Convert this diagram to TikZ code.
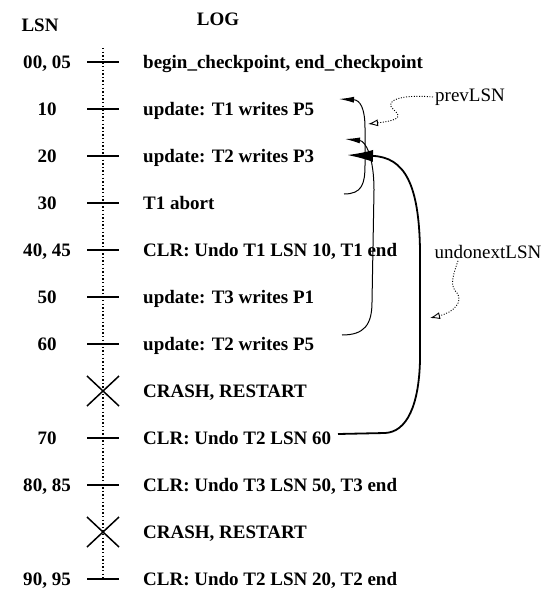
\documentclass[tikz,border=0pt]{standalone}
\usepackage{fontspec}
\setmainfont{Liberation Serif}
\usetikzlibrary{arrows.meta}

\begin{document}
\begin{tikzpicture}[x=1pt, y=-1pt,
  every node/.style={font=\fontsize{19}{22}\selectfont, inner sep=2pt},
  lsn/.style={font=\fontsize{19}{22}\selectfont\bfseries, text height=12.6pt, text depth=0pt},
  entry/.style={lsn, anchor=west},
  tick/.style={line width=2.6pt},
  crash/.style={line width=1.5pt},
  ptr/.style={line width=1pt, -{Latex[length=15pt,width=6pt]}},
  undoptr/.style={line width=1.8pt, -{Latex[length=26pt,width=12pt]}},
  note/.style={line width=0.9pt, dash pattern=on 1pt off 1.6pt, -{Latex[open,length=10pt,width=7pt]}}]
\useasboundingbox (0,0) rectangle (543,596);

% headings
\node[lsn] (hlsn) at (40,25) {LSN};
\node[lsn] (hlog) at (218,19) {LOG};

% time line with ticks and crashes
\draw[line width=1.4pt, dash pattern=on 1.4pt off 2.2pt] (103,48) -- (103,579);
\foreach \y in {62,109,156,203,250,297,344,438,485,579}
  \draw[tick] (87,\y) -- (119,\y);
\draw[crash] (87,376) -- (119,406) (87,406) -- (119,376);
\draw[crash] (87,517) -- (119,547) (87,547) -- (119,517);

% log records
\node[lsn] (n00) at (47,62) {00, 05};
\node[entry] (r00) at (141,62) {begin\_checkpoint, end\_checkpoint};
\node[lsn] (n10) at (47,109) {10};
\node[entry] (r10) at (141,109) {update: T1 writes P5};
\node[lsn] (n20) at (47,156) {20};
\node[entry] (r20) at (141,156) {update: T2 writes P3};
\node[lsn] (n30) at (47,203) {30};
\node[entry] (r30) at (141,203) {T1 abort};
\node[lsn] (n40) at (47,250) {40, 45};
\node[entry] (r40) at (141,250) {CLR: Undo T1 LSN 10, T1 end};
\node[lsn] (n50) at (47,297) {50};
\node[entry] (r50) at (141,297) {update: T3 writes P1};
\node[lsn] (n60) at (47,344) {60};
\node[entry] (r60) at (141,344) {update: T2 writes P5};
\node[entry] (rc1) at (141,391) {CRASH, RESTART};
\node[lsn] (n70) at (47,438) {70};
\node[entry] (r70) at (141,438) {CLR: Undo T2 LSN 60};
\node[lsn] (n80) at (47,485) {80, 85};
\node[entry] (r80) at (141,485) {CLR: Undo T3 LSN 50, T3 end};
\node[entry] (rc2) at (141,532) {CRASH, RESTART};
\node[lsn] (n90) at (47,579) {90, 95};
\node[entry] (r90) at (141,579) {CLR: Undo T2 LSN 20, T2 end};

% prevLSN chain
\coordinate (a30) at (344,194);
\coordinate (a10) at (339,99);
\draw[ptr] (a30) .. controls (362,194) and (365,184) .. (365,165) -- (365,128) .. controls (365,108) and (360,100) .. (a10);
\coordinate (a60) at (342,335);
\coordinate (a20) at (345,139);
\draw[ptr] (a60) .. controls (364,335) and (372,325) .. (372,302) -- (374,190) .. controls (374,158) and (366,141) .. (a20);

% undonextLSN of the CLR
\coordinate (u70) at (338,434);
\coordinate (u20) at (347,155);
\draw[undoptr] (u70) -- (385,433) .. controls (407,432) and (419,405) .. (420,360) -- (420,250) .. controls (419,185) and (405,157) .. (u20);

% labels
\node (lprev) at (470,97) {prevLSN};
\node (lundo) at (488,252) {undonextLSN};
\draw[note] (lprev.west) .. controls (400,94) and (384,101) .. (393,109) .. controls (401,116) and (402,120) .. (368,124);
\draw[note] ([xshift=-30pt]lundo.south) .. controls (452,278) and (450,286) .. (457,293) .. controls (463,301) and (455,312) .. (430,318);
\end{tikzpicture}
\end{document}
